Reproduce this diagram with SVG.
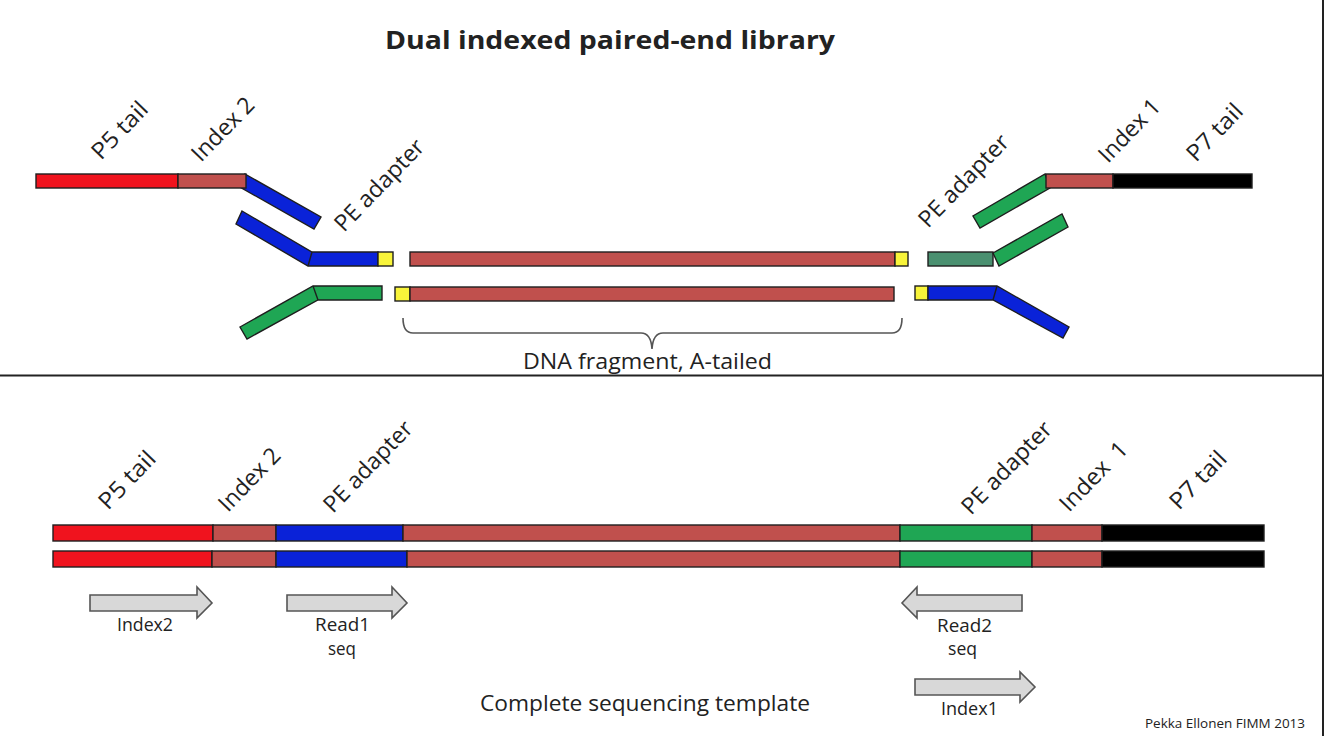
<svg xmlns="http://www.w3.org/2000/svg" width="1326" height="736" viewBox="0 0 1326 736">
<style>
.s{stroke:#1e1e1e;stroke-width:1.4;stroke-linejoin:miter}
.red{fill:#f0131e}.brn{fill:#c0504d}.blu{fill:#0a22d8}.grn{fill:#1fa654}.dgn{fill:#4a9070}.yel{fill:#f8f43a}.blk{fill:#000}
.t{font-family:"Open Sans","Liberation Sans",sans-serif;fill:#222}
.lab{font-size:23px}
.arr{fill:#d8d8d8;stroke:#555;stroke-width:1.6}
.br{fill:none;stroke:#555;stroke-width:1.6}
</style>
<rect width="1326" height="736" fill="#fff"/>
<g id="frame">
<line x1="0" y1="375.5" x2="1323" y2="375.5" stroke="#222" stroke-width="2"/>
<line x1="1323" y1="0" x2="1323" y2="736" stroke="#222" stroke-width="2"/>
</g>
<g id="title"><text class="t" x="385" y="49" font-size="25" font-weight="bold" fill="#111" textLength="450" lengthAdjust="spacingAndGlyphs">Dual indexed paired-end library</text></g>

<g id="adapter-left">
<polygon class="s blu" points="245,174 321,217 314,229 238,186"/>
<rect class="s red" x="36" y="174" width="142" height="14"/>
<rect class="s brn" x="178" y="174" width="68" height="14"/>
<polygon class="s blu" points="242,211 312,252 378,252 378,266 308,266 236,224"/>
<line class="s" x1="312" y1="252" x2="308" y2="266"/>
<rect class="s yel" x="378" y="252" width="15" height="14"/>
<polygon class="s grn" points="240,327 313,286 382,286 382,300 318,300 247,339"/>
<line class="s" x1="313" y1="286" x2="318" y2="300"/>
</g>

<g id="fragment">
<rect class="s brn" x="410" y="252" width="485" height="14"/>
<rect class="s yel" x="895" y="252" width="13" height="14"/>
<rect class="s yel" x="395" y="287" width="15" height="14"/>
<rect class="s brn" x="410" y="287" width="484" height="14"/>
</g>

<g id="adapter-right">
<polygon class="s grn" points="1045,174 1050,188 980,228 973,216"/>
<rect class="s brn" x="1046" y="174" width="67" height="14"/>
<rect class="s blk" x="1113" y="174" width="139" height="14"/>
<rect class="s dgn" x="928" y="252" width="65" height="14"/>
<polygon class="s grn" points="993,253 1062,214 1068,227 999,266"/>
<rect class="s yel" x="915" y="286" width="13" height="14"/>
<polygon class="s blu" points="928,286 997,286 1069,327 1063,338 993,300 928,300"/>
<line class="s" x1="997" y1="286" x2="993" y2="300"/>
</g>

<g id="labels-top" class="t lab">
<text transform="translate(101,161) rotate(-46)" textLength="70" lengthAdjust="spacingAndGlyphs">P5 tail</text>
<text transform="translate(201,163) rotate(-46)" textLength="79" lengthAdjust="spacingAndGlyphs">Index 2</text>
<text transform="translate(344,233) rotate(-46)" textLength="118" lengthAdjust="spacingAndGlyphs">PE adapter</text>
<text transform="translate(928,229) rotate(-46)" textLength="119" lengthAdjust="spacingAndGlyphs">PE adapter</text>
<text transform="translate(1108,164) rotate(-46)" textLength="78" lengthAdjust="spacingAndGlyphs">Index 1</text>
<text transform="translate(1196,163) rotate(-46)" textLength="70" lengthAdjust="spacingAndGlyphs">P7 tail</text>
</g>

<g id="connectors">
<path class="br" d="M403,318 Q403,333 413,333 L641,333 Q651,333 652,349 Q653,333 663,333 L892,333 Q902,333 902,318"/>
</g>
<g id="fragment-label"><text class="t" x="523" y="369" font-size="22" textLength="249" lengthAdjust="spacingAndGlyphs">DNA fragment, A-tailed</text></g>

<g id="template-top">
<rect class="s red" x="53" y="525" width="160" height="16"/>
<rect class="s brn" x="213" y="525" width="63" height="16"/>
<rect class="s blu" x="276" y="525" width="127" height="16"/>
<rect class="s brn" x="403" y="525" width="497" height="16"/>
<rect class="s grn" x="900" y="525" width="132" height="16"/>
<rect class="s brn" x="1032" y="525" width="70" height="16"/>
<rect class="s blk" x="1102" y="525" width="162" height="16"/>
</g>
<g id="template-bottom">
<rect class="s red" x="53" y="551" width="159" height="16"/>
<rect class="s brn" x="212" y="551" width="64" height="16"/>
<rect class="s blu" x="276" y="551" width="131" height="16"/>
<rect class="s brn" x="407" y="551" width="493" height="16"/>
<rect class="s grn" x="900" y="551" width="132" height="16"/>
<rect class="s brn" x="1032" y="551" width="70" height="16"/>
<rect class="s blk" x="1102" y="551" width="162" height="16"/>
</g>

<g id="labels-bottom" class="t lab">
<text transform="translate(108,511) rotate(-46)" textLength="71" lengthAdjust="spacingAndGlyphs">P5 tail</text>
<text transform="translate(228,513) rotate(-46)" textLength="78" lengthAdjust="spacingAndGlyphs">Index 2</text>
<text transform="translate(333,514) rotate(-46)" textLength="117" lengthAdjust="spacingAndGlyphs">PE adapter</text>
<text transform="translate(971,516) rotate(-46)" textLength="119" lengthAdjust="spacingAndGlyphs">PE adapter</text>
<text transform="translate(1069,513) rotate(-46)" textLength="87" lengthAdjust="spacingAndGlyphs" xml:space="preserve">Index  1</text>
<text transform="translate(1179,511) rotate(-46)" textLength="71" lengthAdjust="spacingAndGlyphs">P7 tail</text>
</g>

<g id="arrow-index2">
<polygon class="arr" points="90,595 197,595 197,587 212,603 197,618 197,611 90,611"/>
<text class="t" x="117" y="631" font-size="18" textLength="56" lengthAdjust="spacingAndGlyphs">Index2</text>
</g>
<g id="arrow-read1">
<polygon class="arr" points="287,595 392,595 392,587 407,603 392,618 392,611 287,611"/>
<text class="t" x="315" y="631" font-size="18" textLength="55" lengthAdjust="spacingAndGlyphs">Read1</text>
<text class="t" x="328" y="655" font-size="18" textLength="28" lengthAdjust="spacingAndGlyphs">seq</text>
</g>
<g id="arrow-read2">
<polygon class="arr" points="1022,595 917,595 917,587 902,603 917,618 917,611 1022,611"/>
<text class="t" x="937" y="632" font-size="18" textLength="55" lengthAdjust="spacingAndGlyphs">Read2</text>
<text class="t" x="948" y="655" font-size="18" textLength="29" lengthAdjust="spacingAndGlyphs">seq</text>
</g>
<g id="arrow-index1">
<polygon class="arr" points="915,679 1020,679 1020,672 1035,687 1020,702 1020,695 915,695"/>
<text class="t" x="941" y="715" font-size="18" textLength="57" lengthAdjust="spacingAndGlyphs">Index1</text>
</g>
<g id="caption"><text class="t" x="480" y="711" font-size="21.5" textLength="330" lengthAdjust="spacingAndGlyphs">Complete sequencing template</text></g>
<g id="credit"><text class="t" x="1145" y="728" font-size="12" fill="#111" textLength="160" lengthAdjust="spacingAndGlyphs">Pekka Ellonen FIMM 2013</text></g>
</svg>
